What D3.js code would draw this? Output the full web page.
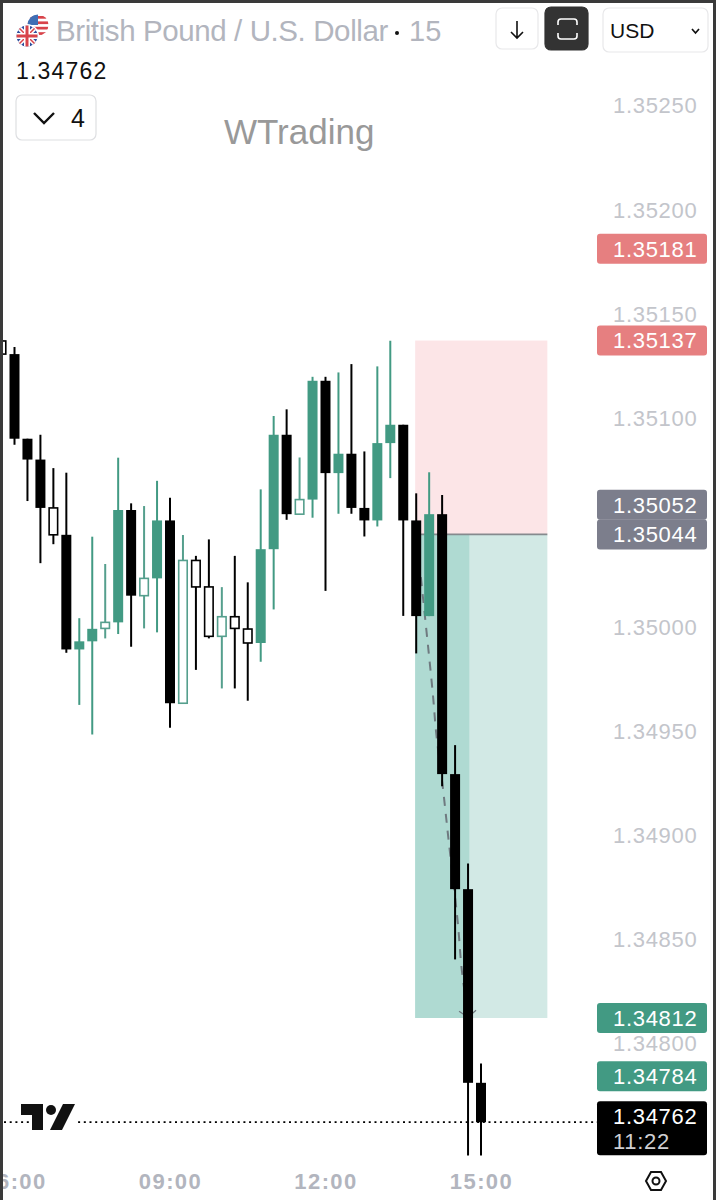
<!DOCTYPE html>
<html><head><meta charset="utf-8">
<script src="https://cdnjs.cloudflare.com/ajax/libs/d3/7.8.5/d3.min.js"></script>
<style>html,body{margin:0;padding:0;background:#fff}svg{display:block}text{font-family:"Liberation Sans",sans-serif}</style>
</head><body><svg id="c" width="716" height="1200"></svg>
<script>
const hours=[5.75,6,6.25,6.5,6.75,7,7.25,7.5,7.75,8,8.25,8.5,8.75,9,9.25,9.5,9.75,10,10.25,10.5,10.75,11,11.25,11.5,11.75,12,12.25,12.5,12.75,13,13.25,13.5,13.75,14,14.25,14.5,14.75,15];
const opens=[1.351305,1.351305,1.350899,1.350799,1.350438,1.350438,1.349927,1.349987,1.349989,1.350557,1.350557,1.350146,1.350507,1.350507,1.349630,1.350188,1.349951,1.349951,1.349989,1.349919,1.350369,1.350918,1.350918,1.350537,1.351177,1.351177,1.350827,1.350827,1.350567,1.350878,1.350966,1.350966,1.350507,1.350537,1.350537,1.349290,1.348738,1.347809];
const closes=[1.351368,1.350899,1.350799,1.350567,1.350567,1.349888,1.349888,1.349927,1.350018,1.350018,1.350146,1.350229,1.350229,1.349630,1.350315,1.350315,1.350188,1.350045,1.350045,1.349986,1.349919,1.350369,1.350537,1.350607,1.350607,1.350734,1.350734,1.350567,1.350507,1.350507,1.350878,1.350507,1.350048,1.350048,1.349290,1.348738,1.347809,1.347620];
const highs=[1.351368,1.351339,1.350899,1.350918,1.350758,1.350736,1.350038,1.350429,1.350298,1.350808,1.350589,1.350576,1.350697,1.350616,1.350437,1.350337,1.350416,1.350187,1.350337,1.350210,1.350656,1.351008,1.351040,1.350809,1.351196,1.351196,1.351217,1.351257,1.350838,1.351246,1.351369,1.350966,1.350637,1.350738,1.350629,1.349429,1.348861,1.347902];
const lows=[1.351305,1.350870,1.350600,1.350302,1.350393,1.349872,1.349622,1.349480,1.349941,1.349962,1.349901,1.349989,1.349970,1.349512,1.349630,1.349790,1.349941,1.349701,1.349701,1.349642,1.349829,1.350080,1.350510,1.350537,1.350520,1.350169,1.350539,1.350539,1.350430,1.350478,1.350710,1.350049,1.349869,1.350048,1.349232,1.348401,1.347460,1.347460];
const trend=["bear","bear","bear","bear","bear","bear","bull","bull","bull","bull","bear","bull","bull","bear","bull","bear","bear","bull","bear","bear","bull","bull","bear","bull","bull","bear","bull","bear","bear","bull","bull","bear","bear","bull","bear","bear","bear","bear"];
const priceTicks=[1.3525,1.352,1.3515,1.351,1.35,1.3495,1.349,1.3485,1.348];
const timeTicks=[6,9,12,15];
const timeLabels=["06:00","09:00","12:00","15:00"];
const stopLevels=[1.35181,1.35137];
const entryLevels=[1.35052,1.35044];
const targetLevels=[1.34812,1.34784];
const lastPrice=1.34762;
const countdown="11:22";
const boxHours=[13.73,14.775,16.28];
const pathHours=[13.84,13.92,14.0,14.07,14.13,14.27,14.36,14.56,14.63,14.75];
const pathPrices=[1.350235,1.350043,1.349851,1.349678,1.349501,1.349213,1.349007,1.348556,1.348349,1.348138];
const title="British Pound / U.S. Dollar";
const interval="15";
const watermark="WTrading";

const C={bull:"#429a83",bullH:"#559f8d",bear:"#000",grey:"#b2b5be"};
const svg=d3.select("#c");
const x=d3.scaleLinear().domain([6,15]).range([14.5,481]);
const y=d3.scaleLinear().domain([1.3525,1.348]).range([105,1043]);
const px=v=>d3.format(".5f")(v);

const boxes=svg.append("g");
const [b0,bm,b1]=boxHours;
const rect=(h0,h1,p0,p1,f)=>boxes.append("rect").attr("x",x(h0)).attr("width",x(h1)-x(h0)).attr("y",y(p0)).attr("height",y(p1)-y(p0)).attr("fill",f);
rect(b0,b1,stopLevels[1],entryLevels[1],"#fce5e7");
rect(b0,b1,entryLevels[1],targetLevels[0],"#d2e9e5");
rect(b0,bm,entryLevels[1],targetLevels[0],"#afdad2");
boxes.append("line").attr("x1",x(b0)).attr("x2",x(b1)).attr("y1",y(entryLevels[1])).attr("y2",y(entryLevels[1])).attr("stroke","#858a8e").attr("stroke-width",1.6);

const line=d3.line().x(d=>x(d[0])).y(d=>y(d[1])).curve(d3.curveMonotoneY);
const pts=d3.zip(pathHours,pathPrices);
svg.append("path").attr("d",line(pts)).attr("fill","none").attr("stroke","#6f7a80").attr("stroke-width",2).attr("stroke-dasharray","9 8");
const tip=[x(pathHours[9]),y(pathPrices[9])+3];
svg.append("path").attr("d",`M${tip[0]-9},${tip[1]-6}L${tip[0]},${tip[1]}L${tip[0]+8},${tip[1]-7}`).attr("fill","none").attr("stroke","#6f7a80").attr("stroke-width",1.3);

const candles=hours.map((h,i)=>({h,o:opens[i],c:closes[i],hi:highs[i],lo:lows[i],t:trend[i]}));
const g=svg.append("g").selectAll("g").data(candles).join("g");
const col=d=>{const hollow=d.c>d.o;return d.t==="bull"?(hollow?C.bullH:C.bull):C.bear;};
g.append("line").attr("x1",d=>x(d.h)).attr("x2",d=>x(d.h)).attr("y1",d=>y(d.hi)).attr("y2",d=>y(d.lo)).attr("stroke",col).attr("stroke-width",2);
g.each(function(d){
  const hollow=d.c>d.o,t=Math.max(d.o,d.c),b=Math.min(d.o,d.c);
  const s=d3.select(this).append("rect").attr("y",y(t)).attr("height",y(b)-y(t));
  if(hollow) s.attr("x",x(d.h)-4.25).attr("width",8.5).attr("fill","#fff").attr("stroke",col(d)).attr("stroke-width",1.6);
  else s.attr("x",x(d.h)-5).attr("width",10).attr("fill",col(d));
});

svg.append("line").attr("x1",4).attr("x2",597).attr("y1",y(lastPrice)).attr("y2",y(lastPrice)).attr("stroke","#000").attr("stroke-width",1.8).attr("stroke-dasharray","2 3.7");

const yAxis=d3.axisRight(y).tickValues(priceTicks).tickSize(0).tickPadding(0).tickFormat(px);
const ya=svg.append("g").attr("transform","translate(613,0)").call(yAxis);
ya.select(".domain").remove();
ya.selectAll("text").attr("font-size",22).attr("letter-spacing",0.7).attr("fill","#c3c5cb").attr("font-family","Liberation Sans").attr("dy","0.36em");

const xAxis=d3.axisBottom(x).tickValues(timeTicks).tickSize(0).tickPadding(0).tickFormat((d,i)=>timeLabels[i]);
const xa=svg.append("g").attr("transform","translate(0,1173)").call(xAxis);
xa.select(".domain").remove();
xa.selectAll("text").attr("font-size",22).attr("font-weight",700).attr("letter-spacing",1.4).attr("fill",C.grey).attr("font-family","Liberation Sans").attr("y",0).attr("dy","0.72em");

function tag(p,f,off){
  const cy=y(p)+off;
  svg.append("rect").attr("x",597).attr("width",110).attr("y",cy-15).attr("height",30).attr("rx",3).attr("fill",f);
  svg.append("text").attr("x",613).attr("y",cy).attr("dy","0.36em").attr("font-size",22).attr("letter-spacing",0.7).attr("fill","#fff").text(px(p));
}
stopLevels.forEach(p=>tag(p,"#e67f80",0));
tag(entryLevels[0],"#7c7e8c",-13);
tag(entryLevels[1],"#7c7e8c",0);
targetLevels.forEach(p=>tag(p,C.bull,0));
const ly=y(lastPrice);
svg.append("rect").attr("x",597).attr("width",110).attr("y",ly-21).attr("height",54).attr("rx",3).attr("fill","#000");
svg.append("text").attr("x",613).attr("y",ly-6).attr("dy","0.36em").attr("font-size",22).attr("letter-spacing",0.7).attr("fill","#fff").text(px(lastPrice));
svg.append("text").attr("x",613).attr("y",ly+19).attr("dy","0.36em").attr("font-size",22).attr("letter-spacing",0.7).attr("fill","#cfcfd2").text(countdown);

// logo
const logo=svg.append("g");
logo.append("rect").attr("x",29).attr("y",1112).attr("width",46).attr("height",20).attr("fill","#fff");
logo.append("path").attr("d","M21,1104H43V1130H32V1115H21Z").attr("fill","#111");
logo.append("circle").attr("cx",51).attr("cy",1110).attr("r",5).attr("fill","#111");
logo.append("path").attr("d","M63,1104H75L62,1130H50Z").attr("fill","#111");

// hexagon
svg.append("path").attr("d","M646,1181L651,1172H661L666,1181L661,1190H651Z").attr("fill","none").attr("stroke","#111").attr("stroke-width",2);
svg.append("circle").attr("cx",656).attr("cy",1181).attr("r",3.5).attr("fill","none").attr("stroke","#111").attr("stroke-width",2);

// header
svg.append("text").attr("x",56).attr("y",41).attr("font-size",29.5).attr("letter-spacing",-0.4).attr("fill",C.grey).text(title);
svg.append("circle").attr("cx",397).attr("cy",33).attr("r",2).attr("fill","#111");
svg.append("text").attr("x",409).attr("y",41).attr("font-size",29).attr("fill",C.grey).text(interval);
svg.append("text").attr("x",16).attr("y",79).attr("font-size",23).attr("letter-spacing",1.2).attr("fill","#111").text(px(lastPrice));
svg.append("text").attr("x",224).attr("y",144).attr("font-size",35).attr("fill","#999").text(watermark);

const btn=(a,b,c,d,f,s)=>svg.append("rect").attr("x",a).attr("y",b).attr("width",c-a).attr("height",d-b).attr("rx",6).attr("fill",f).attr("stroke",s).attr("stroke-width",1.2);
btn(496,8,538,49,"#fff","#e8e8ea");
svg.append("path").attr("d","M517,21V38M511,32L517,38L523,32").attr("fill","none").attr("stroke","#111").attr("stroke-width",1.6);
btn(545,7,588,50,"#333","#333");
svg.append("path").attr("d","M558,25V22Q558,19 561,19H574Q577,19 577,22V25M558,33V36Q558,39 561,39H574Q577,39 577,36V33").attr("fill","none").attr("stroke","#fff").attr("stroke-width",1.6);
btn(603,8,708,52,"#fff","#e8e8ea");
svg.append("text").attr("x",610).attr("y",38).attr("font-size",21).attr("fill","#111").text("USD");
svg.append("path").attr("d","M692,29L695.5,33L699,29").attr("fill","none").attr("stroke","#111").attr("stroke-width",1.7);
btn(16,95,96,140,"#fff","#dedfe2");
svg.append("path").attr("d","M34,113L44,123L54,113").attr("fill","none").attr("stroke","#111").attr("stroke-width",2.4);
svg.append("text").attr("x",71).attr("y",127).attr("font-size",25).attr("fill","#111").text("4");

// flags
const defs=svg.append("defs");
defs.append("clipPath").attr("id","us").append("circle").attr("cx",38).attr("cy",25).attr("r",10.5);
defs.append("clipPath").attr("id","uk").append("circle").attr("cx",27).attr("cy",36).attr("r",10.5);
const us=svg.append("g").attr("clip-path","url(#us)");
us.append("rect").attr("x",27).attr("y",14).attr("width",22).attr("height",22).attr("fill","#fff");
d3.range(4).forEach(i=>us.append("rect").attr("x",27).attr("y",16+i*5.4).attr("width",22).attr("height",2.7).attr("fill","#d8434a"));
us.append("rect").attr("x",27).attr("y",14).attr("width",11).attr("height",11).attr("fill","#3f6fb5");
svg.append("circle").attr("cx",27).attr("cy",36).attr("r",12).attr("fill","#fff");
const uk=svg.append("g").attr("clip-path","url(#uk)");
uk.append("rect").attr("x",16).attr("y",25).attr("width",22).attr("height",22).attr("fill","#2f4f9e");
uk.append("path").attr("d","M16,25L38,47M38,25L16,47").attr("stroke","#fff").attr("stroke-width",4.5);
uk.append("path").attr("d","M16,25L38,47M38,25L16,47").attr("stroke","#d8434a").attr("stroke-width",1.5);
uk.append("path").attr("d","M27,25V47M16,36H38").attr("stroke","#fff").attr("stroke-width",6);
uk.append("path").attr("d","M27,25V47M16,36H38").attr("stroke","#d8434a").attr("stroke-width",3);

// screenshot frame
svg.append("rect").attr("x",0).attr("y",0).attr("width",716).attr("height",3).attr("fill","#3a3a3a");
svg.append("rect").attr("x",0).attr("y",0).attr("width",3).attr("height",1200).attr("fill","#3a3a3a");
svg.append("rect").attr("x",713).attr("y",0).attr("width",3).attr("height",1200).attr("fill","#3a3a3a");
</script></body></html>
